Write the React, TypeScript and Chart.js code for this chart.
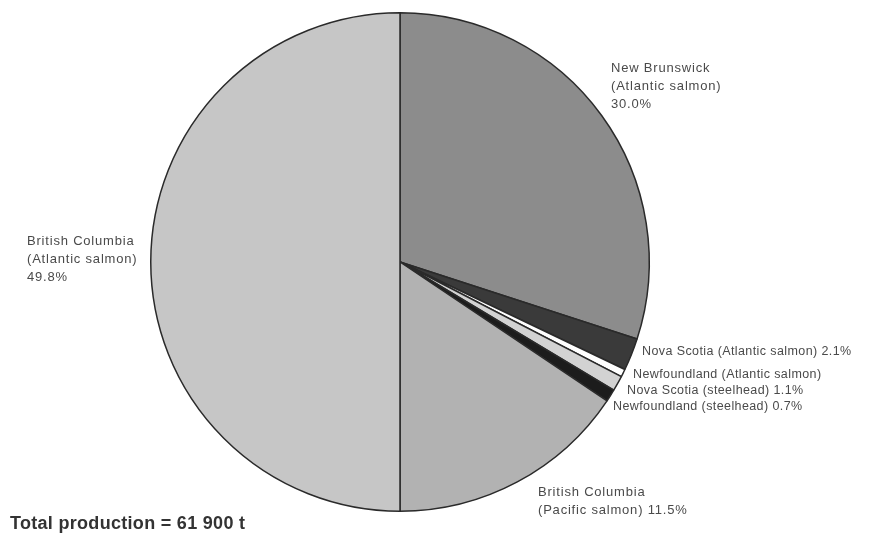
import React, { useEffect, useRef } from "react";
import { Chart, registerables } from "chart.js";

Chart.register(...registerables);

// Slice categories (clockwise from 12 o'clock)
const categories = [
  "New Brunswick (Atlantic salmon)",
  "Nova Scotia (Atlantic salmon)",
  "Newfoundland (Atlantic salmon)",
  "Nova Scotia (steelhead)",
  "Newfoundland (steelhead)",
  "British Columbia (Pacific salmon)",
  "British Columbia (Atlantic salmon)",
];

// Slice sizes as drawn in the picture (percent of total)
const sliceValues = [30.0, 2.1, 0.5, 1.0, 0.8, 15.6, 50.0];

const sliceColors = ["#8c8c8c", "#3a3a3a", "#ffffff", "#d2d2d2", "#1c1c1c", "#b2b2b2", "#c6c6c6"];

// Label text lines as printed on the figure
const labelLines: string[][] = [
  ["New Brunswick", "(Atlantic salmon)", "30.0%"],
  ["Nova Scotia (Atlantic salmon) 2.1%"],
  ["Newfoundland (Atlantic salmon)"],
  ["Nova Scotia (steelhead) 1.1%"],
  ["Newfoundland (steelhead) 0.7%"],
  ["British Columbia", "(Pacific salmon) 11.5%"],
  ["British Columbia", "(Atlantic salmon)", "49.8%"],
];
const labelAnchors: [number, number][] = [
  [611, 68],
  [642, 352],
  [633, 375],
  [627, 391],
  [613, 407],
  [538, 492],
  [27, 241],
];
const labelLarge = [true, false, false, false, false, true, true];

const totalText = "Total production = 61 900 t";

const labelPlugin = {
  id: "figureLabels",
  afterDraw(chart: any) {
    const ctx = chart.ctx as any;
    ctx.save();
    ctx.textBaseline = "middle";
    ctx.textAlign = "left";
    ctx.fillStyle = "#4a4a4a";
    labelLines.forEach((lines: string[], i: number) => {
      const [x, y] = labelAnchors[i];
      if (labelLarge[i]) {
        ctx.font = "13px 'Liberation Sans', Arial, sans-serif";
        ctx.letterSpacing = "0.8px";
      } else {
        ctx.font = "12.5px 'Liberation Sans', Arial, sans-serif";
        ctx.letterSpacing = "0.4px";
      }
      lines.forEach((t, j) => ctx.fillText(t, x, y + j * 18));
    });
    ctx.fillStyle = "#333333";
    ctx.font = "bold 18px 'Liberation Sans', Arial, sans-serif";
    ctx.letterSpacing = "0.3px";
    ctx.fillText(totalText, 10, 524);
    ctx.restore();
  },
};

export default function App() {
  const ref = useRef<HTMLCanvasElement>(null);
  useEffect(() => {
    if (!ref.current) return;
    const chart = new Chart(ref.current, {
      type: "pie",
      data: {
        labels: categories,
        datasets: [
          {
            data: sliceValues,
            backgroundColor: sliceColors,
            borderColor: "#2a2a2a",
            borderWidth: 1.5,
          },
        ],
      },
      options: {
        animation: false,
        responsive: false,
        events: [],
        layout: { padding: { top: 12, bottom: 23, left: 150, right: 237 } },
        plugins: {
          legend: { display: false },
          tooltip: { enabled: false },
        },
      },
      plugins: [labelPlugin],
    });
    return () => chart.destroy();
  }, []);
  return (
    <div style={{ position: "absolute", left: 0, top: 0, width: 887, height: 535, background: "#fff" }}>
      <canvas ref={ref} width={887} height={535} style={{ width: 887, height: 535, display: "block" }} />
    </div>
  );
}
